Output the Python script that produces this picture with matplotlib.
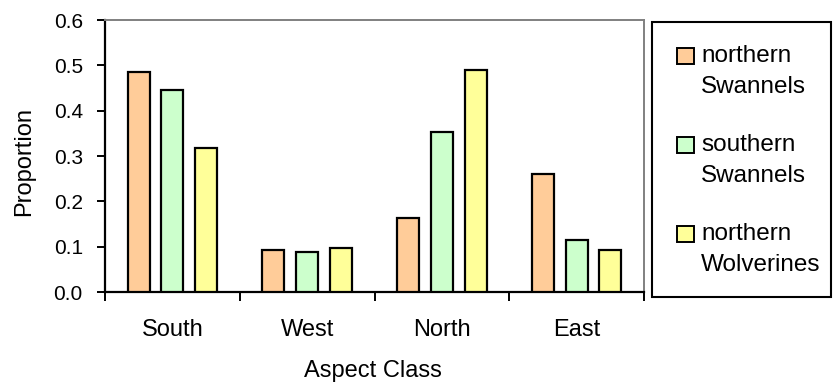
import numpy as np
import matplotlib
matplotlib.use("Agg")
import matplotlib.pyplot as plt
from matplotlib.patches import Rectangle

# Data
aspects = ["South", "West", "North", "East"]
series_names = ["northern Swannels", "southern Swannels", "northern Wolverines"]
northern_swannels = [0.486, 0.093, 0.163, 0.260]
southern_swannels = [0.446, 0.088, 0.352, 0.115]
northern_wolverines = [0.318, 0.096, 0.490, 0.093]
y_ticks = [0.0, 0.1, 0.2, 0.3, 0.4, 0.5, 0.6]

series = [northern_swannels, southern_swannels, northern_wolverines]
colors = ["#FFCC99", "#CCFFCC", "#FFFF99"]

plt.rcParams["font.family"] = ["Liberation Sans", "DejaVu Sans"]

W, H = 833, 385
fig = plt.figure(figsize=(W / 100, H / 100), dpi=100)
ax = fig.add_axes([105 / W, 1 - 292 / H, (644 - 105) / W, (292 - 20) / H])

x = np.arange(len(aspects))
offsets = [-0.25, 0.0, 0.25]
bar_w = 0.163
for vals, off, col in zip(series, offsets, colors):
    ax.bar(x + off, vals, width=bar_w, color=col, edgecolor="black",
           linewidth=1.6, zorder=3)

ax.set_xlim(-0.5, len(aspects) - 0.5)
ax.set_ylim(0, 0.6)

# y axis
ax.set_yticks(y_ticks)
ax.set_yticklabels([f"{v:.1f}" for v in y_ticks], fontsize=15)
ax.tick_params(axis="y", direction="out", length=6, width=1.4, pad=10,
               color="black")

# x axis: ticks at category boundaries, labels at centres
ax.set_xticks(np.arange(-0.5, len(aspects), 1.0))
ax.set_xticklabels([])
ax.tick_params(axis="x", which="major", direction="out", length=6.5,
               width=1.4, color="black")
ax.set_xticks(x, minor=True)
ax.set_xticklabels(aspects, minor=True, fontsize=17)
ax.tick_params(axis="x", which="minor", length=0, pad=19.5)

for side in ("left", "bottom"):
    ax.spines[side].set_color("black")
    ax.spines[side].set_linewidth(1.6)
for side in ("top", "right"):
    ax.spines[side].set_color("#808080")
    ax.spines[side].set_linewidth(1.4)

ax.set_ylabel("Proportion", fontsize=17, va="center")
ax.yaxis.set_label_coords((24 - 105) / (644 - 105), (292 - 161) / 272)
ax.set_xlabel("Aspect Class", fontsize=17, va="center")
ax.xaxis.set_label_coords((373 - 105) / (644 - 105), (292 - 371) / 272)

# Legend box drawn in figure pixel coordinates
def fx(px):
    return px / W

def fy(py):
    return 1 - py / H

fig.patches.append(Rectangle((fx(652), fy(297)), fx(831) - fx(652),
                             fy(22) - fy(297), transform=fig.transFigure,
                             facecolor="white", edgecolor="black",
                             linewidth=1.5))
step = 89
for i, (name, col) in enumerate(zip(series_names, colors)):
    cy = 56 + i * step
    fig.patches.append(Rectangle((fx(677), fy(cy + 8)), fx(694) - fx(677),
                                 fy(cy - 8) - fy(cy + 8),
                                 transform=fig.transFigure, facecolor=col,
                                 edgecolor="black", linewidth=1.4))
    first, second = name.split(" ", 1)
    fig.text(fx(701), fy(61.7 + i * step), first, fontsize=17.5,
             va="baseline", ha="left")
    fig.text(fx(701), fy(93.3 + i * step), second, fontsize=17.5,
             va="baseline", ha="left")

fig.savefig("out.png", dpi=100)
